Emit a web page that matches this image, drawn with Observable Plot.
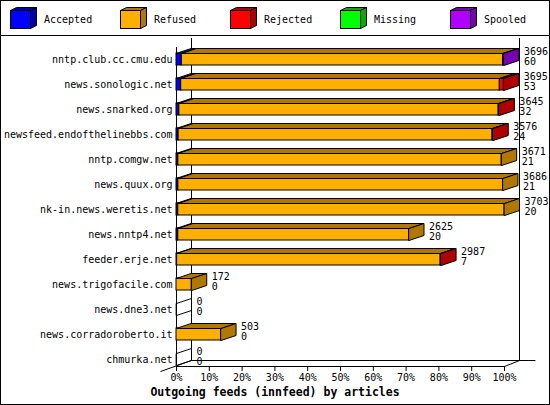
<!DOCTYPE html>
<html><head><meta charset="utf-8">
<script src="https://cdn.jsdelivr.net/npm/d3@7"></script>
<script src="https://cdn.jsdelivr.net/npm/@observablehq/plot@0.6"></script>
<style>
html,body{margin:0;padding:0;background:#fff;}
#frame{position:absolute;left:0;top:0;width:550px;height:405px;border:1px solid #000;box-sizing:border-box;overflow:hidden;font-family:"DejaVu Sans Mono",monospace;color:#000;}
#legend{position:absolute;left:0;top:0;width:548px;height:34px;border-bottom:1px solid #000;}
.item{position:absolute;top:0;width:110px;height:34px;}
.item svg{position:absolute;left:0;top:0;}
.item span{position:absolute;left:43px;top:13px;font-size:10px;line-height:12px;white-space:nowrap;}
#chart{position:absolute;left:0;top:35px;}
#title{position:absolute;left:0;top:384px;width:548px;text-align:center;font-weight:bold;font-size:11.5px;line-height:14px;white-space:nowrap;}
</style></head>
<body>
<div id="frame">
  <div id="legend"></div>
  <div id="chart"></div>
  <div id="title">Outgoing feeds (innfeed) by articles</div>
</div>
<script>
const hosts = ["nntp.club.cc.cmu.edu","news.sonologic.net","news.snarked.org","newsfeed.endofthelinebbs.com","nntp.comgw.net","news.quux.org","nk-in.news.weretis.net","news.nntp4.net","feeder.erje.net","news.trigofacile.com","news.dne3.net","news.corradoroberto.it","chmurka.net"];
const offered  = [3696,3695,3645,3576,3671,3686,3703,2625,2987,172,0,503,0];
const accepted = [60,53,32,24,21,21,20,20,7,0,0,0,0];
const refused  = [3626,3597,3605,3544,3650,3665,3683,2605,2975,172,0,503,0];
const rejected = [0,45,8,8,0,0,0,0,5,0,0,0,0];
const missing  = [0,0,0,0,0,0,0,0,0,0,0,0,0];
const spooled  = [10,0,0,0,0,0,0,0,0,0,0,0,0];
const seriesNames = ["Accepted","Refused","Rejected","Missing","Spooled"];
const xTicks = [0,10,20,30,40,50,60,70,80,90,100];

const fronts = ["#0000ff","#ffaf00","#ff0000","#00ff00","#af00ff"];
const darks  = ["#0000b0","#b07800","#b00000","#00b000","#7800b0"];

// legend
const legend = document.getElementById("legend");
seriesNames.forEach((name, k) => {
  const it = document.createElement("div");
  it.className = "item";
  it.style.left = (110 * k) + "px";
  it.innerHTML = `<svg width="44" height="34">
    <rect x="9.5" y="9.5" width="20" height="18" fill="${fronts[k]}" stroke="#000"/>
    <polygon points="9.5,9.5 15.5,6.5 35.5,6.5 29.5,9.5" fill="${darks[k]}" stroke="#000"/>
    <polygon points="29.5,9.5 35.5,6.5 35.5,24.5 29.5,27.5" fill="${darks[k]}" stroke="#000"/>
  </svg><span>${name}</span>`;
  legend.appendChild(it);
});

const W = 548, H = 368, ML = 175, MR = 45, MT = 11, MB = 38;
const yDom = [-0.48, 12.28];
const kx = (W - ML - MR) / 100;
const ky = (H - MT - MB) / (yDom[1] - yDom[0]);
const DX = 15 / kx, DY = -5 / ky;      // bar depth (data units)
const FDY = -6 / ky;                     // frame depth
const HALF = 6 / ky;                     // half bar height

const max = d3.max(offered);
const segs = [], verts = [], rows = [];
let pid = 0;
function poly(pts, fill) {
  const id = pid++;
  pts.forEach(([x, y]) => verts.push({id, x, y, fill}));
}
hosts.forEach((h, i) => {
  const vals = [accepted[i], refused[i], rejected[i], missing[i], spooled[i]];
  let c = 0, last = null;
  vals.forEach((v, k) => {
    if (v > 0) {
      const x1 = c / max * 100; c += v; const x2 = c / max * 100;
      const s = {i, k, x1, x2};
      segs.push(s); last = s;
      const yt = i - HALF;
      poly([[x1, yt], [x2, yt], [x2 + DX, yt + DY], [x1 + DX, yt + DY]], darks[k]);
    }
  });
  const xe = last ? last.x2 : 0;
  poly([[xe, i - HALF], [xe + DX, i - HALF + DY], [xe + DX, i + HALF + DY], [xe, i + HALF]], last ? darks[last.k] : "none");
  rows.push({i, end: offered[i] / max * 100, top: offered[i], bottom: accepted[i]});
});

const yb = yDom[1];
const chart = Plot.plot({
  width: W, height: H,
  marginLeft: ML, marginRight: MR, marginTop: MT, marginBottom: MB,
  x: {domain: [0, 100]},
  y: {domain: yDom, reverse: true},
  color: {type: "identity"},
  style: {fontFamily: "DejaVu Sans Mono, monospace", fontSize: "10px", color: "#000", background: "#fff"},
  marks: [
    // back walls and floor
    Plot.ruleX([0, 100], {y1: -0.6, y2: yb, dx: 15, dy: -6, stroke: "#000", strokeWidth: 1}),
    Plot.ruleY([yb], {x1: 0, x2: 105, dx: 15, dy: -6, stroke: "#000", strokeWidth: 1}),
    Plot.link([{x1: -16 / kx, y1: yb + 5 / ky, x2: DX, y2: yb + FDY}, {x1: 100, y1: yb, x2: 100 + DX, y2: yb + FDY}],
      {x1: "x1", y1: "y1", x2: "x2", y2: "y2", stroke: "#000", strokeWidth: 1}),
    // front axes
    Plot.ruleX([0], {stroke: "#000", strokeWidth: 1}),
    Plot.ruleY([yb], {stroke: "#000", strokeWidth: 1}),
    Plot.axisX(xTicks, {tickSize: 5, tickPadding: 2, tickFormat: d => d + "%", stroke: "#000", fill: "#000"}),
    Plot.axisY(d3.range(hosts.length), {tickSize: 0, tickPadding: 4, tickFormat: i => hosts[i], fill: "#000"}),
    // bars
    Plot.rect(segs, {x1: "x1", x2: "x2", y1: d => d.i - HALF, y2: d => d.i + HALF, fill: d => fronts[d.k], stroke: "#000", strokeWidth: 1}),
    Plot.line(verts, {x: "x", y: "y", z: "id", fill: "fill", stroke: "#000", strokeWidth: 1, curve: "linear-closed", strokeLinejoin: "miter"}),
    // value labels
    Plot.text(rows, {x: "end", y: "i", text: d => String(d.top), dx: 20, dy: -8, textAnchor: "start", fill: "#000"}),
    Plot.text(rows, {x: "end", y: "i", text: d => String(d.bottom), dx: 20, dy: 2.5, textAnchor: "start", fill: "#000"})
  ]
});
document.getElementById("chart").appendChild(chart);
</script>
</body></html>
